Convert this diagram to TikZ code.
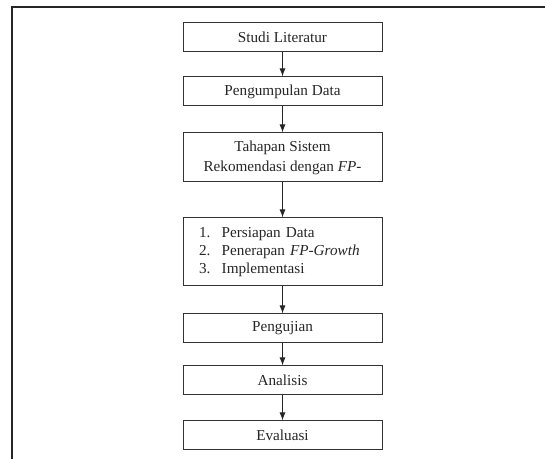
\documentclass[tikz,border=0pt]{standalone}
\usepackage{fontspec}
\setmainfont{Liberation Serif}
\usetikzlibrary{arrows.meta}

\begin{document}
\begin{tikzpicture}[x=0.75pt,y=0.75pt,
  langkah/.style={draw=black!80,line width=0.75pt,minimum width=149.25pt,
    inner sep=0pt,align=center,font=\fontsize{11.4}{13.5}\selectfont,text=black!85},
  panah/.style={-{Latex[length=6pt,width=4.5pt]},line width=0.75pt,black!85}]
  % the page is 545 x 459 px, 1 px = 0.75 pt, y counted from the bottom
  \useasboundingbox (0,0) rectangle (545,459);
  \draw[line width=1pt,black!85] (12,0) -- (12,452) -- (545,452);
  \node[langkah,minimum height=21.75pt] (studi) at (282.5,421.5) {Studi Literatur};
  \node[langkah,minimum height=21.75pt] (kumpul) at (282.5,367.5) {Pengumpulan Data};
  \node[langkah,minimum height=36.75pt] (tahap) at (282.5,301.5)
    {Tahapan Sistem\\[1.5pt]Rekomendasi dengan \textit{FP-}};
  \node[langkah,minimum height=51pt,align=left,text width=125.25pt,inner xsep=12pt]
    (proses) at (282.5,207)
    {\begin{tabular}{@{}l@{\hspace{8.5pt}}l@{}}
      1. & Persiapan Data\\
      2. & Penerapan \textit{FP-Growth}\\
      3. & Implementasi
    \end{tabular}};
  \node[langkah,minimum height=21.75pt] (uji) at (282.5,130.5) {Pengujian};
  \node[langkah,minimum height=21.75pt] (analisis) at (282.5,78.5) {Analisis};
  \node[langkah,minimum height=21.75pt] (evaluasi) at (282.5,23.5) {Evaluasi};
  \foreach \a/\b in {studi/kumpul,kumpul/tahap,tahap/proses,proses/uji,uji/analisis,analisis/evaluasi}
    \draw[panah] (\a) -- (\b);
\end{tikzpicture}
\end{document}
